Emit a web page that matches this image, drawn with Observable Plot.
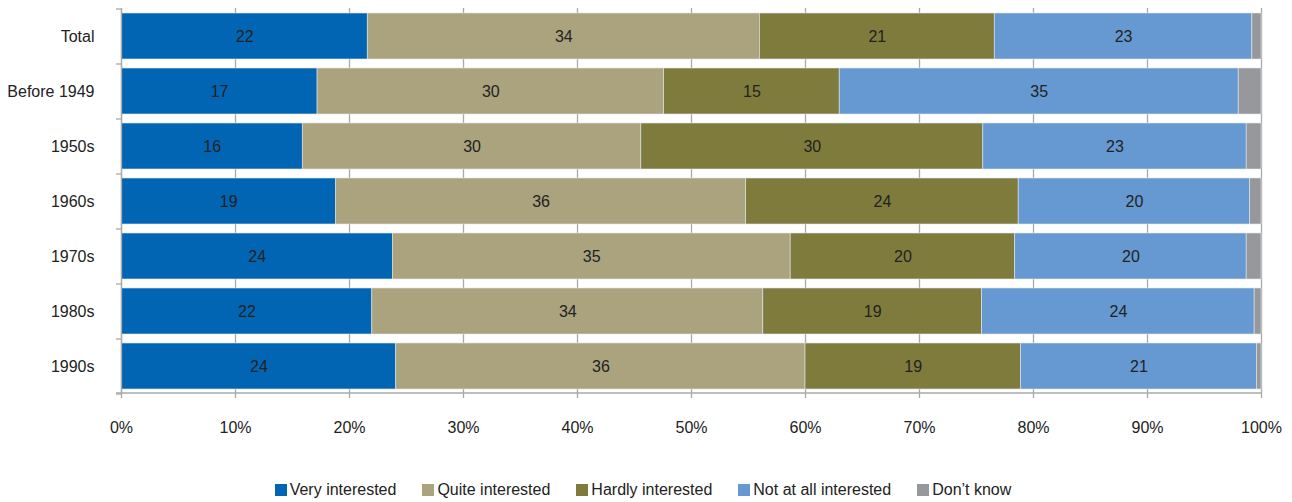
<!DOCTYPE html>
<html>
<head>
<meta charset="utf-8">
<script src="https://cdn.jsdelivr.net/npm/d3@7"></script>
<script src="https://cdn.jsdelivr.net/npm/@observablehq/plot@0.6"></script>
<style>
  body { margin: 0; background: #fff; font-family: "Liberation Sans", Arial, sans-serif; }
  #legend { display: flex; justify-content: center; gap: 26px; padding-top: 5px; font-size: 16px; line-height: 20px; color: #222; padding-right: 6px; }
  #legend .item { display: flex; align-items: center; gap: 3px; }
  #legend .sw { width: 12px; height: 12px; display: inline-block; }
</style>
</head>
<body>
<div id="chart"></div>
<div id="legend"></div>
<script>
const categories = ["Total", "Before 1949", "1950s", "1960s", "1970s", "1980s", "1990s"];
const seriesNames = ["Very interested", "Quite interested", "Hardly interested", "Not at all interested", "Don\u2019t know"];
const veryInterested   = [21.6, 17.2, 15.9, 18.8, 23.8, 22.0, 24.1];
const quiteInterested  = [34.4, 30.4, 29.7, 36.0, 34.9, 34.3, 35.9];
const hardlyInterested = [20.6, 15.4, 30.0, 23.9, 19.7, 19.2, 18.9];
const notAtAll         = [22.6, 35.0, 23.1, 20.3, 20.3, 23.9, 20.7];
const dontKnow         = [0.8, 2.0, 1.3, 1.0, 1.3, 0.6, 0.4];
const colors = ["#0265b4", "#aaa37e", "#7f7b3c", "#6699d1", "#97989c"];
const xTicks = [0, 10, 20, 30, 40, 50, 60, 70, 80, 90, 100];

const seriesValues = [veryInterested, quiteInterested, hardlyInterested, notAtAll, dontKnow];
const data = [];
categories.forEach((c, i) => {
  seriesNames.forEach((s, j) => {
    data.push({category: c, series: s, value: seriesValues[j][i], showLabel: j < 4});
  });
});

const chart = Plot.plot({
  width: 1292,
  height: 475,
  marginLeft: 121,
  marginRight: 31,
  marginTop: 8,
  marginBottom: 82,
  style: {fontFamily: "Liberation Sans, Arial, sans-serif", fontSize: "16px", color: "#222"},
  x: {domain: [0, 100]},
  y: {domain: categories, paddingInner: 0.17, paddingOuter: 0.085},
  color: {domain: seriesNames, range: colors},
  marks: [
    Plot.gridX(xTicks, {stroke: "#a9a9a9", strokeOpacity: 1, strokeWidth: 1.3}),
    Plot.barX(data, Plot.stackX({x: "value", y: "category", fill: "series", order: seriesNames, stroke: "#dfe6ee", strokeWidth: 0.6})),
    Plot.text(data.filter(d => d.showLabel), Plot.stackX({x: "value", y: "category", z: "series", order: seriesNames.slice(0, 4), text: d => Math.round(d.value), fill: "#222", fontSize: 16})),
    Plot.ruleX([0], {stroke: "#a9a9a9", strokeWidth: 1.3}),
    Plot.axisX(xTicks, {tickFormat: d => d + "%", tickSize: 5, tickPadding: 23, stroke: "#a9a9a9", strokeWidth: 1.3, fill: "#222", fontSize: 16, label: null}),
    Plot.axisY({tickSize: 0, tickPadding: 27, label: null, fill: "#222", fontSize: 16}),
    Plot.axisY(categories, {tickSize: 5, text: null, dy: -27.5, stroke: "#a9a9a9", strokeWidth: 1.3, label: null}),
    Plot.axisY(["1990s"], {tickSize: 5, text: null, dy: 27.5, stroke: "#a9a9a9", strokeWidth: 1.3, label: null})
  ]
});
document.getElementById("chart").appendChild(chart);
// bottom axis line
const svg = d3.select(chart);
svg.append("line").attr("x1", 116).attr("x2", 1261).attr("y1", 393).attr("y2", 393).attr("stroke", "#a9a9a9").attr("stroke-width", 1.3);

const legend = document.getElementById("legend");
seriesNames.forEach((s, i) => {
  const item = document.createElement("div");
  item.className = "item";
  const sw = document.createElement("span");
  sw.className = "sw";
  sw.style.background = colors[i];
  const t = document.createElement("span");
  t.textContent = s;
  item.appendChild(sw);
  item.appendChild(t);
  legend.appendChild(item);
});
</script>
</body>
</html>
